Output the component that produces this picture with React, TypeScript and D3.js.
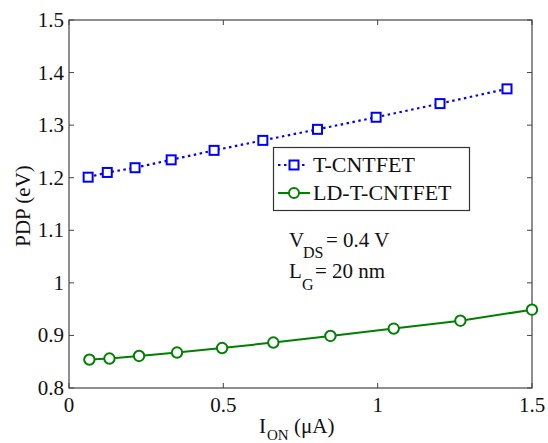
import React from "react";
import * as d3 from "d3";

const tXs = [0.062, 0.124, 0.214, 0.331, 0.47, 0.628, 0.805, 0.995, 1.202, 1.419];
const tYs = [1.201, 1.21, 1.219, 1.234, 1.252, 1.271, 1.292, 1.315, 1.341, 1.369];
const ldXs = [0.066, 0.131, 0.227, 0.35, 0.496, 0.662, 0.847, 1.052, 1.268, 1.5];
const ldYs = [0.854, 0.856, 0.861, 0.8675, 0.876, 0.8865, 0.899, 0.913, 0.928, 0.949];
const xTicks = [0, 0.5, 1, 1.5];
const xTickLabels = ["0", "0.5", "1", "1.5"];
const yTicks = [0.8, 0.9, 1, 1.1, 1.2, 1.3, 1.4, 1.5];
const yTickLabels = ["0.8", "0.9", "1", "1.1", "1.2", "1.3", "1.4", "1.5"];
const seriesNames = ["T-CNTFET", "LD-T-CNTFET"];

const W = 548, H = 443;
const L = 69, R = 532, T = 20, B = 388;
const font = "Liberation Serif, Times New Roman, Times, serif";
const blue = "#0000ff";
const green = "#008000";

export default function App() {
  const x = d3.scaleLinear().domain([0, 1.5]).range([L, R]);
  const y = d3.scaleLinear().domain([0.8, 1.5]).range([B, T]);
  const tData = tXs.map((v, i) => [v, tYs[i]] as [number, number]);
  const ldData = ldXs.map((v, i) => [v, ldYs[i]] as [number, number]);
  const line = d3.line<[number, number]>().x(d => x(d[0])).y(d => y(d[1]));
  const tick = 5;
  const axisColor = "#444";
  return (
    <svg width={W} height={H} style={{ position: "absolute", left: 0, top: 0, background: "#fff", fontFamily: font }}>
      <rect x={L} y={T} width={R - L} height={B - T} fill="#fff" stroke={axisColor} strokeWidth={1.2} />
      {xTicks.map((t, i) => (
        <g key={"x" + i}>
          <line x1={x(t)} x2={x(t)} y1={B} y2={B - tick} stroke={axisColor} />
          <line x1={x(t)} x2={x(t)} y1={T} y2={T + tick} stroke={axisColor} />
          <text x={x(t)} y={412} textAnchor="middle" style={{ fontFamily: font }} fontSize={21} fill="#111">{xTickLabels[i]}</text>
        </g>
      ))}
      {yTicks.map((t, i) => (
        <g key={"y" + i}>
          <line x1={L} x2={L + tick} y1={y(t)} y2={y(t)} stroke={axisColor} />
          <line x1={R} x2={R - tick} y1={y(t)} y2={y(t)} stroke={axisColor} />
          <text x={64} y={y(t) + 7} textAnchor="end" style={{ fontFamily: font }} fontSize={21} fill="#111">{yTickLabels[i]}</text>
        </g>
      ))}
      <path d={line(tData) || ""} fill="none" stroke={blue} strokeWidth={2.2} strokeDasharray="2.5,3.5" />
      {tData.map((d, i) => (
        <rect key={"ts" + i} x={x(d[0]) - 4.5} y={y(d[1]) - 4.5} width={9} height={9} fill="#fff" stroke={blue} strokeWidth={2} />
      ))}
      <path d={line(ldData) || ""} fill="none" stroke={green} strokeWidth={2} />
      {ldData.map((d, i) => (
        <circle key={"lc" + i} cx={x(d[0])} cy={y(d[1])} r={5.2} fill="#fff" stroke={green} strokeWidth={2} />
      ))}
      <g>
        <rect x={273.5} y={147.5} width={196} height={63} fill="#fff" stroke="#333" strokeWidth={1.2} />
        <line x1={278} x2={308} y1={165} y2={165} stroke={blue} strokeWidth={2.2} strokeDasharray="2.5,3.5" />
        <rect x={289.5} y={160.5} width={9} height={9} fill="#fff" stroke={blue} strokeWidth={2} />
        <text x={313} y={172} style={{ fontFamily: font }} fontSize={22} fill="#111">{seriesNames[0]}</text>
        <line x1={278} x2={310} y1={193} y2={193} stroke={green} strokeWidth={2} />
        <circle cx={294} cy={193} r={5} fill="#fff" stroke={green} strokeWidth={2} />
        <text x={313} y={200} style={{ fontFamily: font }} fontSize={22} fill="#111">{seriesNames[1]}</text>
      </g>
      <text x={289} y={247} style={{ fontFamily: font }} fontSize={21} fill="#111">V</text>
      <text x={303} y={258} style={{ fontFamily: font }} fontSize={16} fill="#111">DS</text>
      <text x={326} y={247} style={{ fontFamily: font }} fontSize={21} fill="#111">= 0.4 V</text>
      <text x={289} y={278} style={{ fontFamily: font }} fontSize={21} fill="#111">L</text>
      <text x={302} y={290} style={{ fontFamily: font }} fontSize={16} fill="#111">G</text>
      <text x={315} y={278} style={{ fontFamily: font }} fontSize={21} fill="#111">= 20 nm</text>
      <text transform={`translate(30,${(T + B) / 2 + 2}) rotate(-90)`} textAnchor="middle" style={{ fontFamily: font }} fontSize={21} fill="#111">PDP (eV)</text>
      <text x={259} y={433} style={{ fontFamily: font }} fontSize={21} fill="#111">I</text>
      <text x={267} y={440} style={{ fontFamily: font }} fontSize={15} fill="#111">ON</text>
      <text x={294} y={433} style={{ fontFamily: font }} fontSize={21} fill="#111">(μA)</text>
    </svg>
  );
}
